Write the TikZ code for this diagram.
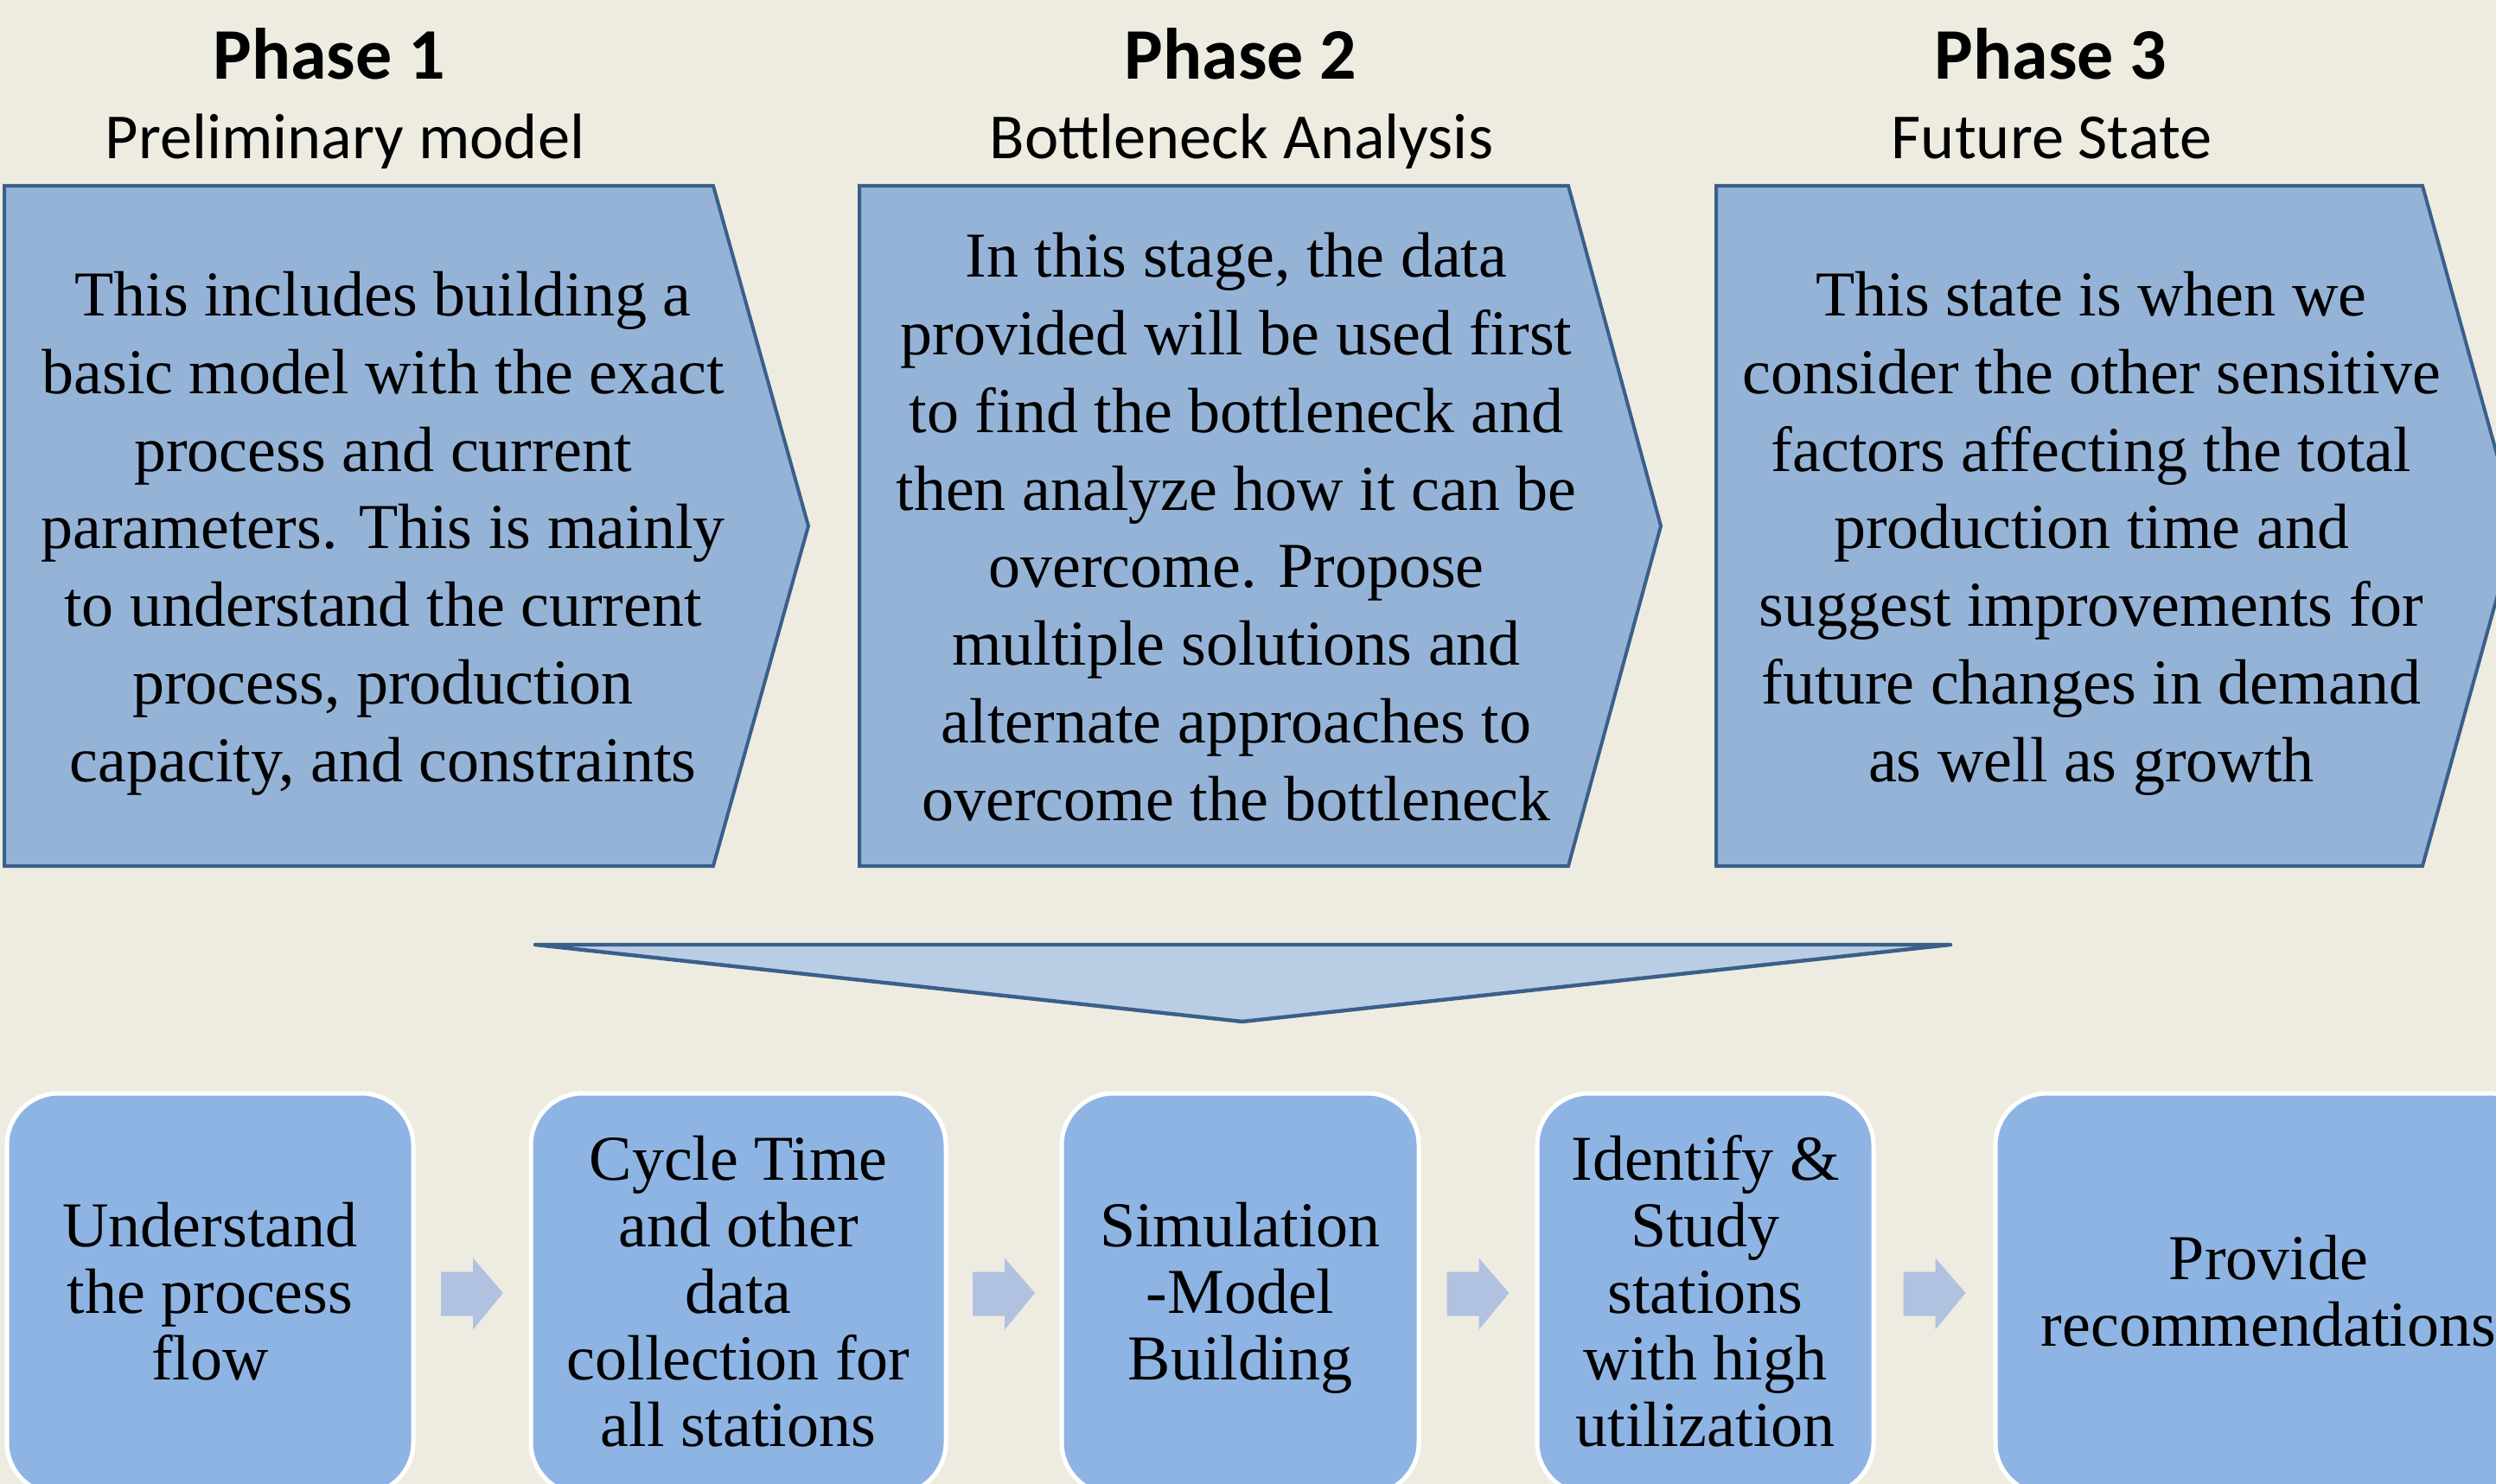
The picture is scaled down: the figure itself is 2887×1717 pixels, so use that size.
\documentclass[tikz,border=0pt]{standalone}
\usepackage{fontspec}
\setmainfont{Liberation Serif}
\newfontfamily\headfont{Carlito}
\usetikzlibrary{calc}
\definecolor{bgtan}{HTML}{EEECE1}
\definecolor{chevfill}{HTML}{95B3D7}
\definecolor{chevline}{HTML}{3A5F8B}
\definecolor{funnelfill}{HTML}{B9CDE5}
\definecolor{stepfill}{HTML}{8EB4E3}
\definecolor{flowarrowfill}{HTML}{B0C2DF}

% step labels: centred lines, set slightly below the box centre
\newcommand{\steplines}[1]{\raisebox{-3.5pt}[\height][\depth]{\begin{tabular}{@{}c@{}}#1\end{tabular}}}

\begin{document}
\begin{tikzpicture}[x=0.5pt,y=-0.5pt,
  phasetitle/.style={font=\headfont\bfseries\fontsize{42}{50}\selectfont, anchor=base, inner sep=0},
  phasesub/.style={font=\headfont\fontsize{37.2}{44}\selectfont, anchor=base, inner sep=0},
  chevron/.style={fill=chevfill, draw=chevline, line width=2pt, line join=miter},
  chevtext/.style={font=\fontsize{37}{45}\selectfont, inner sep=0},
  funnel/.style={fill=funnelfill, draw=chevline, line width=2.2pt, line join=round, line cap=round},
  stepbox/.style={fill=stepfill, draw=white, line width=2.5pt, rounded corners=30pt,
    minimum height=232pt, inner sep=0, font=\fontsize{37}{38.5}\selectfont},
  flowarrow/.style={fill=flowarrowfill, draw=none}
]
% canvas
\useasboundingbox (0,0) rectangle (2887,1717);
\fill[bgtan] (0,0) rectangle (2887,1717);
\clip (0,0) rectangle (2887,1717);

% phase headings
\node[phasetitle] (p1) at (381,92) {Phase 1};
\node[phasesub]   (p1s) at (399,184) {Preliminary model};
\node[phasetitle] (p2) at (1435,92) {Phase 2};
\node[phasesub]   (p2s) at (1436,184) {Bottleneck Analysis};
\node[phasetitle] (p3) at (2372,92) {Phase 3};
\node[phasesub]   (p3s) at (2373,184) {Future State};

% phase chevrons
\draw[chevron] (5,215) -- (825,215) -- (935,608.5) -- (825,1002) -- (5,1002) -- cycle;
\draw[chevron] (994,215) -- (1814,215) -- (1921,608.5) -- (1814,1002) -- (994,1002) -- cycle;
\draw[chevron] (1985,215) -- (2802,215) -- (2911,608.5) -- (2802,1002) -- (1985,1002) -- cycle;

\node[chevtext] (c1) at (443,617) {\begin{tabular}{@{}c@{}}
This includes building a\\ basic model with the exact\\ process and current\\
parameters. This is mainly\\ to understand the current\\ process, production\\
capacity, and constraints\end{tabular}};
\node[chevtext] (c2) at (1430,617) {\begin{tabular}{@{}c@{}}
In this stage, the data\\ provided will be used first\\ to find the bottleneck and\\
then analyze how it can be\\ overcome. Propose\\ multiple solutions and\\
alternate approaches to\\ overcome the bottleneck\end{tabular}};
\node[chevtext] (c3) at (2419,617) {\begin{tabular}{@{}c@{}}
This state is when we\\ consider the other sensitive\\ factors affecting the total\\
production time and\\ suggest improvements for\\ future changes in demand\\
as well as growth\end{tabular}};

% funnel into the process steps
\draw[funnel] (619,1093) -- (2256,1093) -- (1437,1182) -- cycle;

% process steps
\node[stepbox, minimum width=235pt] (s1) at (243,1497)
  {\steplines{Understand\\ the process\\ flow}};
\node[stepbox, minimum width=240pt] (s2) at (854,1497)
  {\steplines{Cycle Time\\ and other\\ data\\ collection for\\ all stations}};
\node[stepbox, minimum width=206.5pt] (s3) at (1434.5,1497)
  {\steplines{Simulation\\ -Model\\ Building}};
\node[stepbox, minimum width=194.5pt] (s4) at (1972.5,1497)
  {\steplines{Identify \&\\ Study\\ stations\\ with high\\ utilization}};
\node[stepbox, minimum width=316pt] (s5) at (2624,1497)
  {\steplines{Provide\\ recommendations}};

% block arrows between the steps
\foreach \a/\b in {s1/s2, s2/s3, s3/s4, s4/s5}{
  \coordinate (m) at ($(\a.east)!0.5!(\b.west)$);
  \fill[flowarrow, shift={(m)}] (-36,-25.5) -- (1,-25.5) -- (1,-41.5) -- (36,-1)
     -- (1,41.5) -- (1,25.5) -- (-36,25.5) -- cycle;
}
\end{tikzpicture}
\end{document}
